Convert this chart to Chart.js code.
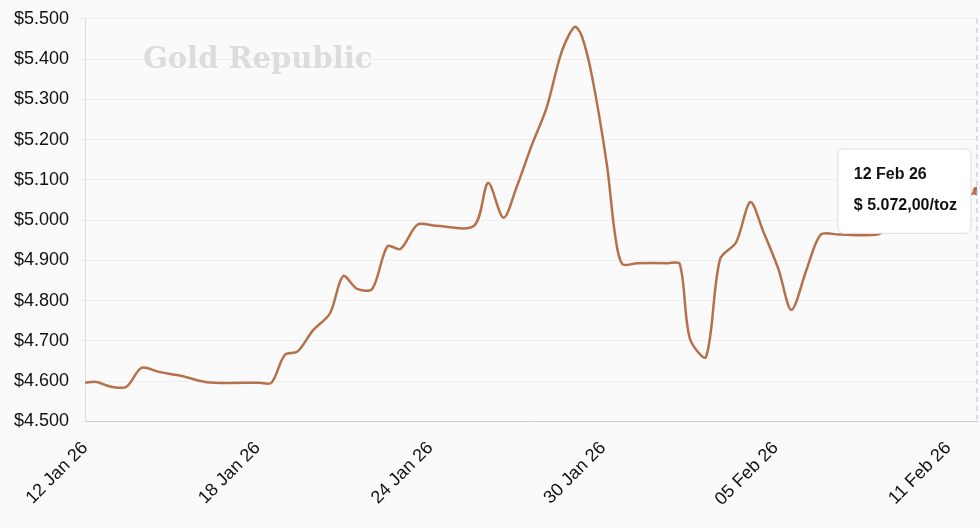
<!DOCTYPE html>
<html><head><meta charset="utf-8">
<script src="https://cdn.jsdelivr.net/npm/chart.js@4"></script>
<style>html,body{margin:0;background:#fafafa}#w{width:980px;height:528px}</style>
</head><body><div id="w"><canvas id="c"></canvas></div>
<script>
const dayOffsets=[0,0.39,0.91,1.44,1.96,2.56,3.36,3.96,4.48,6.06,6.48,6.94,7.39,7.92,8.51,8.97,9.46,9.98,10.51,10.96,11.56,12.19,13.52,14.01,14.54,14.99,15.52,16.04,16.57,17.02,17.27,17.62,18.14,18.42,18.67,19.19,20.25,20.67,21.02,21.58,22.07,22.63,23.12,23.57,24.1,24.55,25.08,25.57,26.2,27.53,27.88,29.0,30.05,31];
const prices=[4596,4598,4586,4586,4633,4623,4613,4601,4596,4596,4596,4665,4674,4726,4768,4861,4829,4829,4935,4928,4989,4986,4986,5092,5006,5080,5185,5279,5419,5480,5456,5357,5136,4964,4891,4893,4893,4891,4706,4660,4903,4945,5045,4972,4878,4777,4878,4964,4964,4964,4979,5000,5035,5072];
const tickDays=[0,6,12,18,24,30];
const tickLabels=['12 Jan 26','18 Jan 26','24 Jan 26','30 Jan 26','05 Feb 26','11 Feb 26'];
const mon=['Jan','Feb'];
function fmtDate(d){const dt=new Date(2026,0,12+Math.round(d));return String(dt.getDate()).padStart(2,'0')+' '+mon[dt.getMonth()]+' '+String(dt.getFullYear()).slice(2);}
const watermark={id:'wm',beforeDatasetsDraw(ch){const c=ch.ctx;c.save();c.font='bold 29px "DejaVu Serif"';c.fillStyle='#dcdcdc';c.textBaseline='middle';c.fillText('Gold Republic',143,60);c.restore();}};
const cross={id:'cross',afterDatasetsDraw(ch){const a=ch.tooltip.getActiveElements();if(!a.length)return;const x=a[0].element.x,c=ch.ctx;c.save();c.strokeStyle='#b9b6f0';c.setLineDash([5,4]);c.lineWidth=1;c.beginPath();c.moveTo(x,ch.chartArea.top);c.lineTo(x,ch.chartArea.bottom);c.stroke();c.restore();}};
const ch=new Chart(document.getElementById('c'),{type:'line',
data:{datasets:[{data:dayOffsets.map((d,i)=>({x:d,y:prices[i]})),borderColor:'#b5714a',borderWidth:2.5,pointRadius:0,pointHoverRadius:4,pointHoverBackgroundColor:'#b5714a',pointHoverBorderColor:'#b5714a',tension:0.3,fill:false}]},
options:{animation:false,responsive:true,maintainAspectRatio:false,layout:{padding:{right:3,top:14,left:6,bottom:10}},
plugins:{legend:{display:false},tooltip:{enabled:true,backgroundColor:'#ffffff',borderColor:'#dddddd',borderWidth:1,titleColor:'#111',bodyColor:'#111',titleFont:{size:16,weight:'bold',family:'Helvetica, Arial, sans-serif'},bodyFont:{size:16,weight:'bold',family:'Helvetica, Arial, sans-serif'},padding:{left:16,right:14,top:16,bottom:18},titleMarginBottom:12,cornerRadius:6,caretSize:0,caretPadding:6,xAlign:'right',yAlign:'center',displayColors:false,
callbacks:{title:i=>fmtDate(i[0].parsed.x),label:i=>'$ '+i.parsed.y.toLocaleString('de-DE',{minimumFractionDigits:2})+'/toz'}}},
scales:{x:{type:'linear',min:0,max:31,grid:{display:false},border:{color:'#cccccc'},afterBuildTicks(ax){ax.ticks=tickDays.map(v=>({value:v}));},ticks:{autoSkip:false,maxRotation:45,minRotation:45,padding:8,color:'#111',font:{size:18,family:'Helvetica, Arial, sans-serif'},callback:v=>tickLabels[tickDays.indexOf(v)]}},
y:{min:4500,max:5500,ticks:{stepSize:100,padding:8,color:'#111',font:{size:18,family:'Helvetica, Arial, sans-serif'},callback:v=>'$'+(v/1000).toFixed(3)},grid:{color:'#eeeeee'},border:{color:'#dddddd'}}}},
plugins:[watermark,cross]});
const last=prices.length-1;
ch.tooltip.setActiveElements([{datasetIndex:0,index:last}],{x:0,y:0});
ch.setActiveElements([{datasetIndex:0,index:last}]);
ch.update('none');
</script></body></html>
